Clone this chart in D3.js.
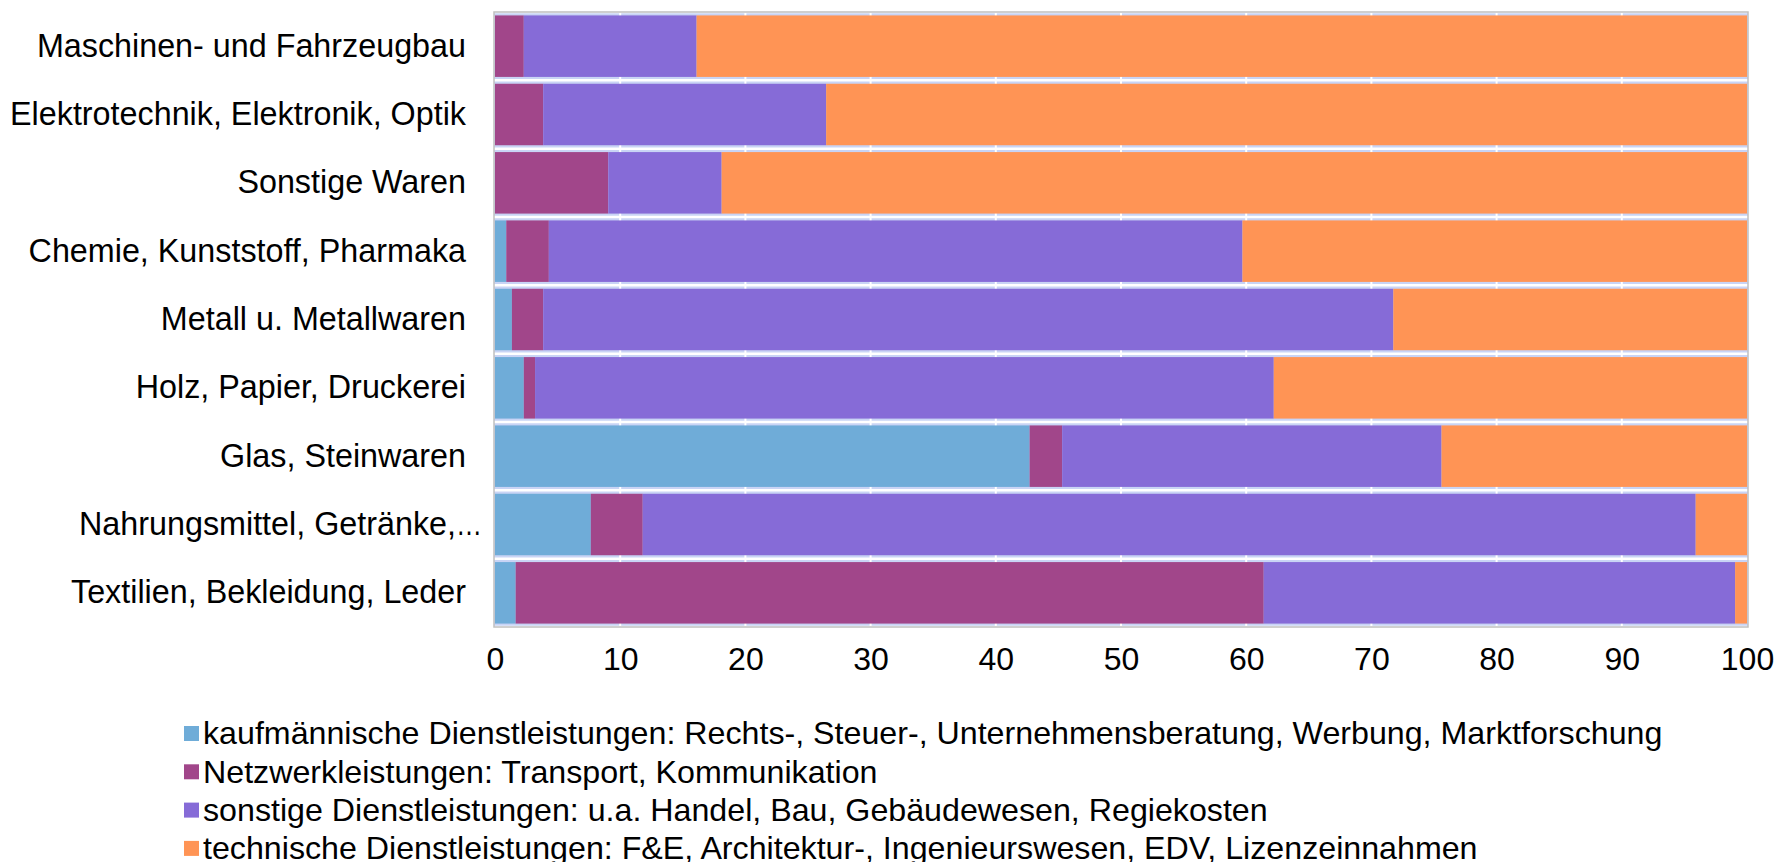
<!DOCTYPE html>
<html>
<head>
<meta charset="utf-8">
<script src="https://cdn.jsdelivr.net/npm/d3@7"></script>
<style>
    body { margin: 0; background: #fff; }
    text { font-family: "Liberation Sans", Arial, sans-serif; fill: #000; }
</style>
</head>
<body>
<div id="chart"></div>
<script>
// branches, top to bottom
const categories = [
    "Maschinen- und Fahrzeugbau",
    "Elektrotechnik, Elektronik, Optik",
    "Sonstige Waren",
    "Chemie, Kunststoff, Pharmaka",
    "Metall u. Metallwaren",
    "Holz, Papier, Druckerei",
    "Glas, Steinwaren",
    "Nahrungsmittel, Getränke,…",
    "Textilien, Bekleidung, Leder"
];

const seriesNames = [
    "kaufmännische Dienstleistungen: Rechts-, Steuer-, Unternehmensberatung, Werbung, Marktforschung",
    "Netzwerkleistungen: Transport, Kommunikation",
    "sonstige Dienstleistungen: u.a. Handel, Bau, Gebäudewesen, Regiekosten",
    "technische Dienstleistungen: F&E, Architektur-, Ingenieurswesen, EDV, Lizenzeinnahmen"
];

// shares in percent, one value per category
const kaufmaennisch = [0, 0, 0, 0.9, 1.35, 2.3, 42.7, 7.65, 1.65];
const netzwerk = [2.3, 3.85, 9.05, 3.4, 2.5, 0.9, 2.6, 4.15, 59.75];
const sonstige = [13.8, 22.6, 9.05, 55.4, 67.9, 59.0, 30.3, 84.1, 37.65];
const technisch = [83.9, 73.55, 81.9, 40.3, 28.25, 37.8, 24.4, 4.1, 0.95];

const xTicks = [0, 10, 20, 30, 40, 50, 60, 70, 80, 90, 100];

const colors = ["#6facd8", "#a1468a", "#866bd7", "#ff9455"];

const width = 1779;
const height = 862;
const plotLeft = 494;
const plotRight = 1748;
const plotTop = 12;
const plotBottom = 627;

const svg = (
    d3.select("#chart")
    .append("svg")
    .attr("width", width)
    .attr("height", height)
);

const xScale = d3.scaleLinear().domain([0, 100]).range([plotLeft + 1, plotRight - 1]);
const yScale = (
    d3.scaleBand()
    .domain(categories)
    .range([plotTop, plotBottom])
    .paddingInner(0.1)
    .paddingOuter(0.05)
);

// plot background: the gaps between bars show a lavender band with a white line
(
    svg.append("rect")
    .attr("x", plotLeft)
    .attr("y", plotTop)
    .attr("width", plotRight - plotLeft)
    .attr("height", plotBottom - plotTop)
    .attr("fill", "#c9d4f5")
);

const step = yScale.step();
const gapLines = d3.range(categories.length + 1).map((i) => yScale(categories[0]) - (step - yScale.bandwidth()) / 2 + i * step);
(
    svg.append("g")
    .selectAll("line")
    .data(gapLines)
    .join("line")
    .attr("x1", plotLeft)
    .attr("x2", plotRight)
    .attr("y1", (d) => d)
    .attr("y2", (d) => d)
    .attr("stroke", "#fff")
    .attr("stroke-width", 2.5)
);

// white vertical gridlines
(
    svg.append("g")
    .selectAll("line")
    .data(xTicks.slice(1, -1))
    .join("line")
    .attr("x1", (d) => xScale(d))
    .attr("x2", (d) => xScale(d))
    .attr("y1", plotTop)
    .attr("y2", plotBottom)
    .attr("stroke", "#fff")
    .attr("stroke-width", 2)
);

// stacked bars
const table = categories.map((c, i) => ({
    category: c,
    s0: kaufmaennisch[i],
    s1: netzwerk[i],
    s2: sonstige[i],
    s3: technisch[i]
}));
const stack = d3.stack().keys(["s0", "s1", "s2", "s3"])(table);

for (let k = 0; k < stack.length; ++k) {
    (
        svg.append("g")
        .attr("fill", colors[k])
        .selectAll("rect")
        .data(stack[k])
        .join("rect")
        .attr("x", (d) => xScale(d[0]))
        .attr("y", (d) => yScale(d.data.category))
        .attr("width", (d) => xScale(d[1]) - xScale(d[0]))
        .attr("height", yScale.bandwidth())
    );
}

// plot frame
(
    svg.append("rect")
    .attr("x", plotLeft)
    .attr("y", plotTop)
    .attr("width", plotRight - plotLeft)
    .attr("height", plotBottom - plotTop)
    .attr("fill", "none")
    .attr("stroke", "#c0c0c0")
    .attr("stroke-width", 1.5)
);

// axes
const yAxis = d3.axisLeft(yScale).tickSize(0).tickPadding(28);
const gy = (
    svg.append("g")
    .attr("transform", `translate(${plotLeft}, 0)`)
    .call(yAxis)
);
gy.select(".domain").remove();
gy.selectAll("text").attr("font-size", 32.3).attr("font-family", "Liberation Sans, Arial, sans-serif").attr("fill", "#000");

// the truncated label: its ellipsis is squeezed and runs closer to the plot
gy.selectAll("text")
    .filter((d) => d.endsWith("…"))
    .each(function (d) {
        const t = d3.select(this).text(null).attr("x", -12);
        t.append("tspan").text(d.slice(0, -1));
        t.append("tspan").attr("textLength", 26).attr("lengthAdjust", "spacingAndGlyphs").text("…");
    });

const xAxis = d3.axisBottom(xScale).tickValues(xTicks).tickSize(0).tickPadding(20);
const gx = (
    svg.append("g")
    .attr("transform", `translate(0, ${plotBottom})`)
    .call(xAxis)
);
gx.select(".domain").remove();
gx.selectAll("text").attr("font-size", 32).attr("font-family", "Liberation Sans, Arial, sans-serif").attr("fill", "#000");

// legend
const legendX = 184;
const legendY = 733;
const legendStep = 38.3;
const legend = (
    svg.append("g")
    .selectAll("g")
    .data(seriesNames)
    .join("g")
    .attr("transform", (d, i) => `translate(${legendX}, ${legendY + i * legendStep})`)
);
(
    legend.append("rect")
    .attr("x", 0)
    .attr("y", -7)
    .attr("width", 15)
    .attr("height", 15)
    .attr("fill", (d, i) => colors[i])
);
(
    legend.append("text")
    .attr("x", 19)
    .attr("y", 0)
    .attr("dy", "0.35em")
    .attr("font-size", 32.2)
    .text((d) => d)
);
</script>
</body>
</html>
